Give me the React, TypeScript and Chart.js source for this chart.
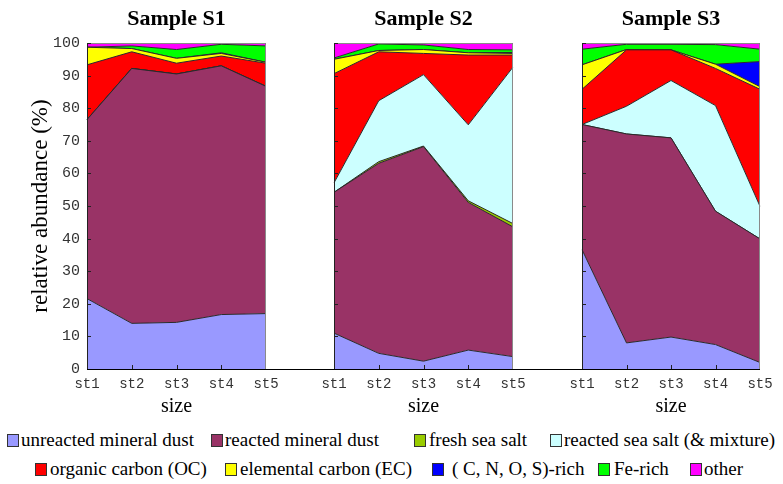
import { useEffect, useRef } from "react";
import { Chart, registerables } from "chart.js";

Chart.register(...registerables);

const sizeLabels = ["st1", "st2", "st3", "st4", "st5"];
const sampleNames = ["Sample S1", "Sample S2", "Sample S3"];
const yTickValues = [0, 10, 20, 30, 40, 50, 60, 70, 80, 90, 100];

const particleTypes = [
  "unreacted mineral dust",
  "reacted mineral dust",
  "fresh sea salt",
  "reacted sea salt (& mixture)",
  "organic carbon (OC)",
  "elemental carbon (EC)",
  "( C, N, O, S)-rich",
  "Fe-rich",
  "other",
];
const typeColors = [
  "#9999ff",
  "#993366",
  "#99cc00",
  "#ccffff",
  "#ff0000",
  "#ffff00",
  "#0000ff",
  "#00ff00",
  "#ff00ff",
];

// Relative abundance (%) per size bin st1..st5; rows are samples S1, S2, S3
const unreactedMineralDust = [
  [21.6, 14.0, 14.3, 16.7, 17.0],
  [11.0, 4.8, 2.4, 5.8, 3.8],
  [36.6, 8.0, 9.8, 7.5, 2.0],
];
const reactedMineralDust = [
  [54.9, 78.2, 76.2, 76.3, 69.7],
  [43.2, 58.3, 65.8, 45.3, 39.8],
  [38.4, 64.1, 61.1, 40.9, 37.9],
];
const freshSeaSalt = [
  [0, 0, 0, 0, 0],
  [0, 0.5, 0.2, 0.5, 1.0],
  [0, 0, 0, 0, 0],
];
const reactedSeaSalt = [
  [0, 0, 0, 0, 0],
  [2.9, 18.7, 21.9, 23.3, 48.0],
  [0, 8.5, 17.6, 32.4, 10.0],
];
const organicCarbon = [
  [16.8, 5.1, 3.3, 3.0, 7.1],
  [33.5, 15.0, 6.5, 21.4, 3.7],
  [10.8, 17.3, 9.4, 11.4, 35.9],
];
const elementalCarbon = [
  [5.4, 1.0, 1.5, 0.8, 0.3],
  [4.4, 0.4, 1.2, 0.7, 0.5],
  [7.5, 0.1, 0, 1.3, 0.8],
];
const cnosRich = [
  [0, 0, 0, 0.2, 0],
  [0, 0, 0, 0, 0.3],
  [0, 0, 0, 0, 7.7],
];
const feRich = [
  [0, 0.8, 2.7, 2.6, 5.0],
  [0.4, 2.0, 1.4, 1.0, 0.8],
  [4.8, 1.6, 1.7, 6.0, 3.8],
];
const otherParticles = [
  [1.3, 0.9, 2.0, 0.4, 0.9],
  [4.6, 0.3, 0.6, 2.0, 2.1],
  [1.9, 0.4, 0.4, 0.5, 1.9],
];

const seriesByType = [
  unreactedMineralDust,
  reactedMineralDust,
  freshSeaSalt,
  reactedSeaSalt,
  organicCarbon,
  elementalCarbon,
  cnosRich,
  feRich,
  otherParticles,
];

const serif = '"Liberation Serif", "Times New Roman", serif';
const mono = '"Liberation Mono", "Courier New", monospace';

// Page geometry
const PAGE_W = 783;
const PAGE_H = 484;
const AXIS_W = 87;
const CANVAS_H = 424;
const panels = [
  { plotLeft: 87, plotWidth: 179, canvasRight: 334, toEdge: true },
  { plotLeft: 334, plotWidth: 179, canvasRight: 582, toEdge: true },
  { plotLeft: 582, plotWidth: 178, canvasRight: 783, toEdge: false },
];

// Legend layout: [square left, text left, row]
const legendLayout = [
  [7, 21, 0],
  [211, 225, 0],
  [414, 429, 0],
  [550, 564, 0],
  [35, 50, 1],
  [225, 240, 1],
  [432, 452, 1],
  [598, 614, 1],
  [690, 704, 1],
];
const legendRowCenters = [440, 469];

// Frame, inward tick marks and the shared baseline of each panel
const panelFrame = {
  id: "panelFrame",
  afterDatasetsDraw(chart: any, _args: any, opts: any) {
    const { ctx, chartArea: a, scales } = chart;
    const xs = scales.x;
    const ys = scales.y;
    ctx.save();
    ctx.lineWidth = 1;
    ctx.strokeStyle = "#8a8a8a";
    ctx.beginPath();
    ctx.moveTo(a.left, a.top + 0.5);
    ctx.lineTo(a.right - 0.5, a.top + 0.5);
    ctx.lineTo(a.right - 0.5, a.bottom);
    ctx.stroke();

    ctx.strokeStyle = "#222";
    ctx.beginPath();
    ctx.moveTo(a.left + 0.5, a.top);
    ctx.lineTo(a.left + 0.5, a.bottom);
    for (const v of yTickValues) {
      const py = Math.round(ys.getPixelForValue(v)) + 0.5;
      ctx.moveTo(a.left, py);
      ctx.lineTo(a.left + 4, py);
    }
    for (let i = 1; i < sizeLabels.length - 1; i++) {
      const px = Math.round(xs.getPixelForValue(i)) + 0.5;
      ctx.moveTo(px, a.bottom);
      ctx.lineTo(px, a.bottom - 4);
    }
    ctx.stroke();

    ctx.strokeStyle = "#000";
    ctx.beginPath();
    const by = Math.round(a.bottom) + 0.5;
    ctx.moveTo(a.left, by);
    ctx.lineTo(opts && opts.toEdge ? chart.width : a.right, by);
    ctx.stroke();
    ctx.restore();
  },
};

function Panel({ index }: { index: number }) {
  const ref = useRef<HTMLCanvasElement | null>(null);
  const p = panels[index];
  const canvasLeft = p.plotLeft - AXIS_W;
  const canvasWidth = p.canvasRight - canvasLeft;
  const rightPad = canvasWidth - AXIS_W - p.plotWidth;
  const showY = index === 0;

  useEffect(() => {
    if (!ref.current) return;
    const chart = new Chart(ref.current, {
      type: "line",
      data: {
        labels: sizeLabels,
        datasets: particleTypes.map((name, k) => ({
          label: name,
          data: seriesByType[k][index],
          backgroundColor: typeColors[k],
          borderColor: "#2a2a2a",
          borderWidth: 1,
          fill: k === 0 ? "origin" : "-1",
          pointRadius: 0,
          tension: 0,
        })),
      },
      options: {
        responsive: false,
        animation: false,
        layout: { padding: { left: 0, right: rightPad, top: 0, bottom: 0 } },
        plugins: {
          legend: { display: false },
          tooltip: { enabled: false },
          title: {
            display: true,
            text: sampleNames[index],
            fullSize: false,
            color: "#000",
            font: { family: serif, size: 22, weight: "bold" },
            padding: { top: 6, bottom: 10.6 },
          },
          panelFrame: { toEdge: p.toEdge },
        } as any,
        scales: {
          x: {
            type: "category",
            offset: false,
            grid: { display: false, drawTicks: false },
            border: { display: false },
            ticks: {
              font: { family: mono, size: 14 },
              color: "#333",
              padding: 7,
              maxRotation: 0,
              autoSkip: false,
            },
            title: {
              display: true,
              text: "size",
              color: "#000",
              font: { family: serif, size: 20 },
              padding: { top: 0, bottom: 5 },
            },
            afterFit: (s: any) => {
              s.height = CANVAS_H - 369;
            },
          },
          y: {
            stacked: true,
            min: 0,
            max: 100,
            grid: { display: false, drawTicks: false },
            border: { display: false },
            ticks: {
              display: showY,
              stepSize: 10,
              font: { family: mono, size: 15 },
              color: "#333",
              padding: 7,
            },
            title: {
              display: showY,
              text: "relative abundance (%)",
              color: "#000",
              font: { family: serif, size: 23 },
              padding: { top: 27, bottom: 0 },
            },
            afterFit: (s: any) => {
              s.width = AXIS_W;
            },
          },
        },
      },
      plugins: [panelFrame],
    });
    return () => chart.destroy();
  }, [index]);

  return (
    <canvas
      ref={ref}
      width={canvasWidth}
      height={CANVAS_H}
      style={{ position: "absolute", left: canvasLeft, top: 0, width: canvasWidth, height: CANVAS_H }}
    />
  );
}

export default function App() {
  return (
    <div
      style={{
        position: "absolute",
        left: 0,
        top: 0,
        width: PAGE_W,
        height: PAGE_H,
        overflow: "hidden",
        background: "#fff",
      }}
    >
      {panels.map((_, i) => (
        <Panel key={i} index={i} />
      ))}
      {particleTypes.map((name, k) => {
        const [sq, tx, row] = legendLayout[k];
        const cy = legendRowCenters[row];
        return (
          <div key={name}>
            <div
              style={{
                position: "absolute",
                left: sq,
                top: cy - 6,
                width: 10,
                height: 11,
                background: typeColors[k],
                border: "1px solid #333",
              }}
            />
            <div
              style={{
                position: "absolute",
                left: tx,
                top: cy - 12,
                height: 24,
                lineHeight: "24px",
                fontFamily: serif,
                fontSize: 19,
                color: "#000",
                whiteSpace: "nowrap",
              }}
            >
              {name}
            </div>
          </div>
        );
      })}
    </div>
  );
}
